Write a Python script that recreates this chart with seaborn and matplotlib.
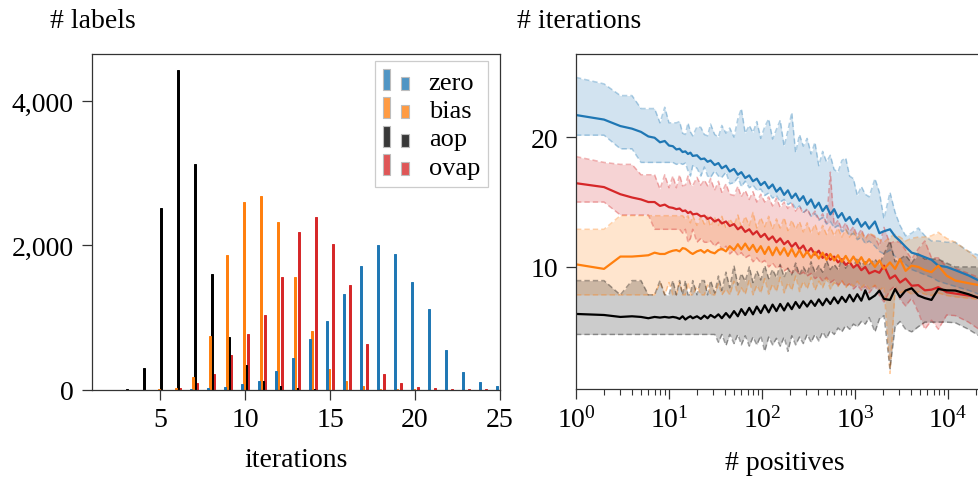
import matplotlib
matplotlib.use("Agg")
import numpy as np
import pandas as pd
import matplotlib.pyplot as plt
import seaborn as sns
from matplotlib.patches import Rectangle, Patch
from matplotlib.legend_handler import HandlerBase
from matplotlib.colors import to_rgba
from matplotlib.ticker import StrMethodFormatter, LogLocator, NullFormatter, FixedLocator

# ---------------------------------------------------------------- data
methods = ["zero", "bias", "aop", "ovap"]
method_colors = ["#1f77b4", "#ff7f0e", "#000000", "#d62728"]

# histogram of the number of iterations needed per label
iterations = list(range(1, 26))
labels_zero = [0, 0, 0, 0, 0, 0, 14, 25, 40, 83, 125, 263, 440, 700, 960,
               1335, 1710, 2000, 1885, 1500, 1120, 560, 245, 105, 55]
labels_bias = [0, 0, 0, 5, 10, 30, 184, 752, 1868, 2602, 2685, 2325, 1560, 812, 286,
               120, 50, 14, 10, 8, 3, 3, 2, 2, 1]
labels_aop = [0, 0, 15, 304, 2520, 4430, 3128, 1605, 733, 346, 125, 55, 25, 10, 5,
              5, 2, 2, 1, 1, 1, 0, 0, 0, 0]
labels_ovap = [0, 0, 0, 0, 0, 25, 100, 221, 484, 775, 1038, 1564, 2183, 2390, 2017,
               1449, 632, 221, 90, 40, 25, 14, 10, 7, 3]

# iterations as a function of the number of positives (mean and spread)
positives = [1, 2, 3, 4, 5, 6, 7, 8, 9, 10,
             11, 12, 13, 14, 15, 16, 17, 18, 20, 22,
             24, 26, 28, 31, 34, 37, 41, 45, 50, 55,
             60, 66, 73, 80, 88, 97, 107, 118, 130, 143,
             157, 173, 190, 209, 230, 253, 278, 306, 337, 371,
             408, 449, 494, 543, 597, 657, 723, 795, 875, 962,
             1060, 1170, 1290, 1420, 1640, 1830, 2050, 2380, 2700, 3050,
             3500, 4070, 4800, 5640, 6650, 7870, 9680, 12000, 16600, 21500]

zero_mean = [21.7, 21.35, 20.85, 20.65, 20.4, 20.05, 19.95, 19.6, 19.7, 19.35,
             19.3, 19.05, 19.1, 18.85, 18.9, 18.7, 18.8, 18.55, 18.6, 18.3,
             18.35, 18.1, 18.2, 17.85, 18.0, 17.6, 17.8, 17.35, 17.55, 17.1,
             17.3, 16.85, 17.05, 16.6, 16.8, 16.3, 16.55, 16.05, 16.35, 15.8,
             16.1, 15.55, 15.9, 15.3, 15.65, 15.1, 15.45, 14.8, 15.2, 14.55,
             14.95, 14.3, 14.7, 14.05, 14.45, 13.8, 14.15, 13.55, 13.85, 13.3,
             13.7, 13.1, 13.45, 12.95, 13.5, 12.6, 12.75, 12.9, 12.35, 12.0,
             11.55, 11.1, 10.95, 10.75, 10.55, 10.1, 10.0, 9.75, 9.35, 8.95]
zero_hi = [24.6, 24.1, 23.2, 23.2, 22.2, 22.2, 22.2, 21.1, 22.3, 21.1,
           21.1, 21.1, 21.2, 20.3, 20.2, 21.1, 20.4, 20.1, 20.8, 20.75,
           20.2, 20.1, 21.0, 20.2, 20.0, 20.9, 20.3, 20.7, 20.0, 21.4,
           22.2, 20.3, 20.9, 20.35, 21.2, 19.9, 20.8, 21.4, 19.85, 20.6,
           21.3, 19.3, 20.5, 21.9, 18.8, 20.2, 19.3, 19.9, 18.7, 19.6,
           17.8, 18.9, 18.1, 18.6, 17.5, 17.3, 18.2, 18.4, 17.0, 16.8,
           15.5, 16.2, 15.6, 15.4, 16.8, 15.75, 13.7, 15.75, 14.2, 13.2,
           12.4, 12.6, 13.0, 12.4, 12.0, 12.0, 11.9, 11.9, 11.2, 10.9]
zero_lo = [20.15, 20.15, 19.1, 19.1, 18.05, 18.05, 18.05, 18.05, 18.05, 18.05,
           18.05, 17.9, 18.0, 17.9, 18.0, 17.4, 17.0, 17.8, 17.6, 17.0,
           17.7, 17.0, 16.9, 17.4, 17.0, 16.9, 17.3, 16.4, 16.5, 16.9,
           16.2, 16.6, 16.1, 16.3, 15.9, 16.0, 15.5, 15.7, 15.3, 15.5,
           15.0, 15.2, 14.8, 15.0, 14.5, 14.7, 14.2, 14.4, 13.9, 14.1,
           13.6, 13.8, 13.3, 13.5, 13.0, 13.2, 12.7, 12.9, 12.4, 12.6,
           12.1, 12.3, 11.8, 12.0, 11.6, 11.2, 11.0, 11.3, 10.8, 10.5,
           10.2, 9.8, 9.6, 9.4, 9.2, 8.9, 8.7, 8.5, 8.2, 7.9]

bias_mean = [10.2, 9.85, 10.8, 10.8, 10.85, 10.9, 11.1, 11.0, 11.0, 11.15,
             11.25, 11.3, 11.2, 11.45, 11.4, 11.25, 11.1, 11.0, 11.2, 11.3,
             11.1, 11.3, 11.15, 11.05, 11.3, 11.4, 11.2, 11.6, 11.3, 11.75,
             11.35, 11.8, 11.3, 11.7, 11.15, 11.6, 11.0, 11.55, 10.9, 11.5,
             10.95, 11.45, 10.85, 11.4, 10.8, 11.3, 10.75, 11.2, 10.7, 11.15,
             10.65, 11.1, 10.55, 11.0, 10.5, 10.9, 10.4, 10.85, 10.35, 10.8,
             10.3, 10.75, 10.2, 10.6, 10.0, 10.5, 9.85, 10.35, 9.85, 10.6,
             9.7, 10.1, 10.0, 9.75, 9.6, 10.1, 9.33, 8.95, 8.75, 8.6]
bias_hi = [12.9, 12.9, 13.95, 13.95, 13.95, 13.95, 13.95, 13.95, 13.95, 13.95,
           13.95, 13.95, 13.95, 13.95, 13.7, 13.95, 13.4, 13.95, 13.2, 13.9,
           13.3, 13.9, 13.1, 13.8, 13.2, 13.9, 13.0, 13.7, 13.2, 14.0,
           13.1, 13.9, 13.2, 14.2, 13.0, 13.8, 13.1, 13.9, 12.9, 13.7,
           13.0, 13.8, 12.8, 13.6, 12.9, 13.5, 12.7, 13.4, 12.6, 13.3,
           12.5, 13.2, 12.5, 13.1, 12.4, 13.0, 12.3, 12.9, 12.3, 12.8,
           12.2, 12.7, 12.1, 12.6, 12.4, 12.1, 11.9, 12.3, 12.5, 12.3,
           12.0, 12.2, 12.3, 12.3, 12.4, 12.67, 12.2, 11.9, 11.2, 10.5]
bias_lo = [7.85, 7.85, 7.85, 7.85, 7.85, 7.85, 7.85, 8.8, 7.85, 8.8,
           7.85, 7.85, 8.8, 7.85, 7.85, 8.8, 7.85, 7.85, 8.5, 7.85,
           7.85, 8.6, 7.85, 7.85, 8.7, 7.85, 8.3, 7.85, 8.9, 7.85,
           8.4, 7.9, 9.0, 7.85, 8.6, 8.0, 9.1, 7.9, 8.7, 8.1,
           9.2, 8.0, 8.8, 8.2, 9.3, 8.1, 8.9, 8.3, 9.2, 8.2,
           8.9, 8.4, 9.1, 8.3, 8.8, 8.5, 9.0, 8.4, 8.8, 8.5,
           8.9, 8.4, 8.7, 8.3, 8.6, 8.2, 8.5, 1.8, 8.3, 8.0,
           8.2, 7.9, 8.1, 7.9, 7.8, 8.0, 7.8, 7.7, 7.6, 7.5]

aop_mean = [6.38, 6.3, 6.15, 6.2, 6.15, 6.05, 6.15, 6.1, 6.15, 6.1,
            6.15, 6.1, 6.0, 6.2, 5.95, 6.1, 6.2, 6.05, 6.2, 6.0,
            6.25, 6.05, 6.3, 6.1, 6.35, 6.05, 6.45, 6.1, 6.6, 6.2,
            6.75, 6.3, 6.85, 6.35, 6.95, 6.45, 7.05, 6.5, 7.1, 6.6,
            7.15, 6.65, 7.2, 6.75, 7.3, 6.85, 7.35, 6.95, 7.4, 7.0,
            7.5, 7.05, 7.55, 7.15, 7.65, 7.2, 7.7, 7.3, 7.85, 7.35,
            7.9, 7.4, 8.2, 7.5, 7.8, 8.18, 7.54, 7.46, 8.3, 7.67,
            8.18, 8.36, 7.8, 7.6, 7.46, 8.3, 8.2, 8.18, 7.9, 7.6]
aop_hi = [8.95, 8.95, 7.85, 8.95, 8.95, 7.85, 7.85, 8.95, 7.85, 7.85,
          8.95, 7.85, 8.95, 7.85, 8.95, 7.85, 7.85, 8.95, 7.85, 8.95,
          8.95, 7.85, 8.95, 8.0, 9.3, 8.2, 9.6, 8.4, 10.1, 8.6,
          9.5, 8.9, 10.0, 8.8, 9.7, 9.0, 10.1, 9.1, 9.8, 9.2,
          10.2, 9.2, 9.9, 9.4, 10.3, 9.4, 10.0, 9.5, 10.4, 9.6,
          10.1, 9.6, 10.5, 9.8, 10.2, 9.8, 10.6, 9.9, 10.3, 10.0,
          10.7, 10.1, 10.4, 10.2, 10.6, 10.2, 11.0, 12.0, 10.4, 10.6,
          10.9, 10.3, 11.0, 10.6, 10.6, 10.6, 10.3, 10.0, 10.0, 10.0]
aop_lo = [4.8, 4.8, 4.8, 4.8, 4.8, 4.8, 4.8, 4.8, 4.8, 4.8,
          4.8, 4.8, 4.8, 4.8, 4.8, 4.8, 4.8, 4.8, 4.8, 4.8,
          4.8, 4.8, 4.8, 4.8, 4.2, 4.8, 3.95, 4.8, 4.1, 4.8,
          4.0, 4.7, 3.9, 4.6, 4.0, 4.7, 3.5, 4.6, 4.0, 4.5,
          3.9, 4.6, 3.5, 4.7, 4.0, 4.6, 4.1, 4.8, 4.2, 4.8,
          4.3, 5.0, 4.5, 5.1, 4.8, 5.3, 5.0, 5.5, 5.2, 5.6,
          5.4, 5.8, 5.6, 6.1, 5.0, 6.0, 6.25, 2.15, 5.4, 5.8,
          5.2, 5.0, 5.4, 5.75, 5.75, 5.75, 5.75, 5.7, 5.2, 4.7]

ovap_mean = [16.45, 16.15, 15.6, 15.35, 15.2, 15.0, 15.0, 14.7, 14.8, 14.6,
             14.55, 14.45, 14.5, 14.3, 14.35, 14.15, 14.25, 14.05, 14.1, 13.9,
             13.95, 13.7, 13.8, 13.5, 13.65, 13.35, 13.5, 13.15, 13.3, 12.9,
             13.1, 12.7, 12.9, 12.5, 12.75, 12.3, 12.55, 12.1, 12.35, 11.9,
             12.2, 11.75, 12.0, 11.55, 11.85, 11.35, 11.65, 11.1, 11.45, 10.95,
             11.25, 10.7, 11.0, 10.55, 10.8, 10.35, 10.6, 10.15, 10.4, 9.95,
             10.2, 9.75, 10.0, 9.5, 9.7, 9.55, 10.1, 9.1, 9.35, 8.8,
             9.1, 8.55, 8.6, 8.2, 8.25, 8.44, 8.05, 7.95, 7.8, 7.65]
ovap_hi = [18.5, 18.05, 17.9, 17.9, 17.1, 17.1, 17.1, 16.0, 17.1, 16.1,
           17.0, 16.1, 17.1, 16.25, 16.3, 17.0, 16.4, 16.25, 16.9, 16.3,
           16.7, 16.25, 16.8, 15.9, 16.6, 15.75, 16.4, 15.6, 15.5, 16.2,
           15.4, 15.9, 15.2, 15.8, 15.0, 15.6, 15.0, 15.4, 14.7, 15.3,
           14.6, 15.0, 14.5, 14.9, 14.3, 14.7, 14.1, 14.5, 13.9, 14.3,
           13.7, 14.1, 13.4, 17.3, 13.2, 13.6, 12.9, 13.4, 12.7, 13.1,
           12.4, 12.9, 12.2, 12.6, 12.3, 11.6, 13.05, 11.8, 12.0, 11.9,
           11.3, 10.6, 11.4, 12.0, 10.7, 10.7, 10.0, 9.9, 9.5, 9.2]
ovap_lo = [15.0, 15.0, 14.0, 14.0, 14.0, 14.0, 12.9, 12.9, 12.9, 12.9,
           12.9, 12.9, 12.9, 12.6, 12.9, 11.9, 12.2, 12.9, 11.9, 12.2,
           11.9, 11.9, 12.0, 11.6, 11.9, 11.3, 11.6, 11.0, 11.3, 10.9,
           11.1, 10.7, 10.9, 10.4, 10.7, 10.3, 10.5, 10.0, 10.3, 9.9,
           10.1, 9.7, 9.9, 9.5, 9.8, 9.4, 9.6, 9.3, 9.5, 9.1,
           9.3, 8.9, 9.2, 8.8, 9.0, 8.6, 8.9, 8.5, 8.7, 8.3,
           8.6, 8.2, 8.5, 8.0, 8.56, 7.8, 7.3, 8.2, 8.56, 7.5,
           7.0, 7.6, 6.5, 5.2, 5.9, 5.2, 6.3, 6.25, 5.75, 5.2]

curves = {
    "zero": (zero_mean, zero_lo, zero_hi),
    "ovap": (ovap_mean, ovap_lo, ovap_hi),
    "bias": (bias_mean, bias_lo, bias_hi),
    "aop": (aop_mean, aop_lo, aop_hi),
}

# ---------------------------------------------------------------- style
FS = 20
sns.set_theme(style="ticks")
plt.rcParams.update({
    "font.family": ["Liberation Serif", "DejaVu Serif"],
    "mathtext.fontset": "stix",
    "font.size": FS,
    "text.color": "black",
    "axes.labelcolor": "black",
    "axes.labelsize": FS,
    "axes.edgecolor": "#333333",
    "axes.linewidth": 0.9,
    "xtick.color": "#333333",
    "ytick.color": "#333333",
    "xtick.labelcolor": "black",
    "ytick.labelcolor": "black",
    "xtick.labelsize": FS,
    "ytick.labelsize": FS,
    "xtick.direction": "out",
    "ytick.direction": "out",
    "xtick.major.size": 7,
    "ytick.major.size": 7,
    "xtick.minor.size": 4,
    "xtick.major.width": 0.9,
    "ytick.major.width": 0.9,
    "xtick.minor.width": 0.8,
    "xtick.major.pad": 5,
    "ytick.major.pad": 6,
})
palette = dict(zip(methods, method_colors))

fig = plt.figure(figsize=(9.79, 4.81), dpi=100)
W, H = 979, 481
ax1 = fig.add_axes([92 / W, 90 / H, 408 / W, 336 / H])
ax2 = fig.add_axes([576 / W, 91 / H, 418 / W, 335 / H])

# ---------------------------------------------------------------- left: histogram
hist_df = pd.DataFrame({
    "iteration": iterations * 4,
    "count": labels_zero + labels_bias + labels_aop + labels_ovap,
    "method": sum([[m] * len(iterations) for m in methods], []),
})
sns.histplot(data=hist_df, x="iteration", weights="count", hue="method",
             hue_order=methods, palette=palette, discrete=True,
             multiple="dodge", shrink=0.5, alpha=1.0, linewidth=0.7,
             legend=False, ax=ax1)
for bar in ax1.patches:
    bar.set_edgecolor(bar.get_facecolor())

ax1.set_xlim(1, 25)
ax1.set_ylim(0, 4650)
ax1.xaxis.set_major_locator(FixedLocator([5, 10, 15, 20, 25]))
ax1.yaxis.set_major_locator(FixedLocator([0, 2000, 4000]))
ax1.yaxis.set_major_formatter(StrMethodFormatter("{x:,.0f}"))
ax1.set_xlabel("iterations", fontsize=FS, labelpad=11)
ax1.set_ylabel("")
for s in ax1.spines.values():
    s.set_visible(True)


class PairedBars(HandlerBase):
    """Legend key drawn as a tall and a short bar side by side."""

    def create_artists(self, legend, orig_handle, xdescent, ydescent,
                       width, height, fontsize, trans):
        fc = orig_handle.get_facecolor()
        bw = 0.3 * width
        tall = Rectangle((-xdescent, -ydescent), bw, height,
                         facecolor=fc, edgecolor="#bdbdbd", lw=0.8,
                         transform=trans)
        short = Rectangle((-xdescent + 0.7 * width, -ydescent), bw, 0.62 * height,
                          facecolor=fc, edgecolor="#bdbdbd", lw=0.8,
                          transform=trans)
        return [tall, short]


handles = [Patch(facecolor=to_rgba(c, 0.78)) for c in method_colors]
leg = ax1.legend(handles, methods, handler_map={Patch: PairedBars()},
                 loc="upper right", bbox_to_anchor=(0.9706, 0.979),
                 borderaxespad=0, frameon=True, fancybox=False,
                 framealpha=1, edgecolor="#cccccc", handlelength=1.0,
                 handleheight=0.85, handletextpad=0.75, labelspacing=0.14,
                 borderpad=0.3, fontsize=FS - 1)
leg.get_frame().set_linewidth(0.9)

# ---------------------------------------------------------------- right: iterations vs positives
xs = np.array(positives, dtype=float)
for name in ["zero", "ovap", "bias", "aop"]:
    mean, lo, hi = curves[name]
    col = palette[name]
    ax2.fill_between(xs, lo, hi, color=col, alpha=0.2, lw=0)
    for bound in (lo, hi):
        sns.lineplot(x=xs, y=bound, color=col, alpha=0.35, lw=1.1,
                     linestyle=(0, (3.5, 2)), ax=ax2)
for name in ["zero", "ovap", "bias", "aop"]:
    mean, lo, hi = curves[name]
    sns.lineplot(x=xs, y=mean, color=palette[name], lw=1.6, ax=ax2)

ax2.set_xscale("log")
ax2.set_xlim(1, 10 ** 4.495)
ax2.set_ylim(0.6, 26.4)
ax2.yaxis.set_major_locator(FixedLocator([10, 20]))
ax2.xaxis.set_major_locator(LogLocator(base=10, numticks=10))
ax2.xaxis.set_minor_locator(LogLocator(base=10, subs=np.arange(2, 10), numticks=20))
ax2.xaxis.set_minor_formatter(NullFormatter())
ax2.set_xlabel("# positives", fontsize=FS, labelpad=13)
ax2.set_ylabel("")
for s in ax2.spines.values():
    s.set_visible(True)

fig.text(50 / W, 1 - 22 / H, "# labels", ha="left", va="center", fontsize=FS)
fig.text(517 / W, 1 - 22 / H, "# iterations", ha="left", va="center", fontsize=FS)

fig.savefig("out.png", dpi=100)
